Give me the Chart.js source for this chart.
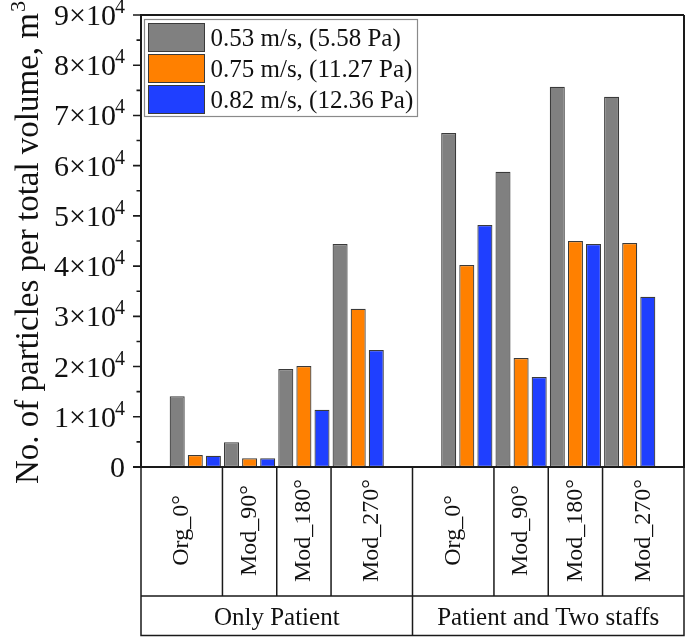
<!DOCTYPE html>
<html>
<head>
<meta charset="utf-8">
<script src="https://cdn.jsdelivr.net/npm/chart.js@4/dist/chart.umd.min.js"></script>
<style>
  html, body { margin: 0; padding: 0; background: #fff; }
  canvas { display: block; }
</style>
</head>
<body>
<canvas id="c" width="685" height="637"></canvas>
<script>
// ---- data ----
const groups = ['Only Patient', 'Patient and Two staffs'];
const categories = ['Org_0°', 'Mod_90°', 'Mod_180°', 'Mod_270°'];
const seriesLabels = ['0.53 m/s, (5.58 Pa)', '0.75 m/s, (11.27 Pa)', '0.82 m/s, (12.36 Pa)'];
const v053 = [14100, 4950, 19500, 44400, 66500, 58800, 75700, 73700];
const v075 = [2400, 1750, 20100, 31500, 40200, 21700, 45000, 44600];
const v082 = [2250, 1750, 11400, 23300, 48200, 17900, 44400, 33900];
const yTicks = [0, 10000, 20000, 30000, 40000, 50000, 60000, 70000, 80000, 90000];
const yTitle = 'No. of particles per total volume, m';
const yTitleSup = '3';

const colors = ['#808080', '#ff8000', '#1f3fff'];

// category slots: empty pad, 4 categories, empty gap, 4 categories, empty pad
const labels = ['', ...categories, '', ...categories, ''];
function padded(vals) {
  return [null, ...vals.slice(0, 4), null, ...vals.slice(4, 8), null];
}
const FONT = '"Liberation Serif", "Times New Roman", serif';

const decor = {
  id: 'decor',
  afterDatasetsDraw(chart) {
    const ctx = chart.ctx;
    const xs = chart.scales.x, ys = chart.scales.y;
    const ca = chart.chartArea;
    const L = ca.left, R = ca.right, T = ca.top, B = ca.bottom;
    ctx.save();
    ctx.fillStyle = '#111';
    ctx.strokeStyle = '#1a1a1a';

    // frame
    ctx.lineWidth = 2;
    ctx.beginPath();
    ctx.moveTo(L, T); ctx.lineTo(R, T);
    ctx.moveTo(R, T); ctx.lineTo(R, B);
    ctx.moveTo(L, T - 1); ctx.lineTo(L, B + 1);
    ctx.moveTo(L - 8, B); ctx.lineTo(R + 1, B);
    ctx.stroke();

    // y ticks (major + minor)
    ctx.lineWidth = 1.6;
    ctx.beginPath();
    yTicks.forEach((v, i) => {
      const y = ys.getPixelForValue(v);
      ctx.moveTo(L - 8, y); ctx.lineTo(L, y);
      if (i < yTicks.length - 1) {
        const ym = ys.getPixelForValue(v + 5000);
        ctx.moveTo(L - 4.5, ym); ctx.lineTo(L, ym);
      }
    });
    ctx.stroke();

    // y tick labels with superscript
    const xr = 125;
    ctx.textBaseline = 'alphabetic';
    ctx.textAlign = 'left';
    yTicks.forEach(v => {
      const y = ys.getPixelForValue(v);
      const base = y + 10;
      if (v === 0) {
        ctx.font = '30px ' + FONT;
        const w = ctx.measureText('0').width;
        ctx.fillText('0', xr - w, base);
        return;
      }
      const main = (v / 10000) + '×10';
      ctx.font = '20px ' + FONT;
      const ws = ctx.measureText('4').width;
      ctx.fillText('4', xr - ws, base - 12);
      ctx.font = '30px ' + FONT;
      const wm = ctx.measureText(main).width;
      ctx.fillText(main, xr - ws - wm + 1, base);
    });

    // y title (rotated) with superscript
    ctx.save();
    ctx.translate(37.5, 243);
    ctx.rotate(-Math.PI / 2);
    ctx.font = '33px ' + FONT;
    const wt = ctx.measureText(yTitle).width;
    ctx.font = '22px ' + FONT;
    const wsup = ctx.measureText(yTitleSup).width;
    const tot = wt + wsup;
    ctx.font = '33px ' + FONT;
    ctx.textAlign = 'left';
    ctx.fillText(yTitle, -tot / 2, 0);
    ctx.font = '22px ' + FONT;
    ctx.fillText(yTitleSup, -tot / 2 + wt + 1, -13);
    ctx.restore();

    // bottom table
    const rowMid = 596, rowBot = 635.5;
    ctx.lineWidth = 1.5;
    ctx.beginPath();
    ctx.moveTo(L, rowMid); ctx.lineTo(R + 0.75, rowMid);
    ctx.moveTo(L, rowBot); ctx.lineTo(R + 0.75, rowBot);
    [0, 5, 10].forEach(p => {
      const x = xs.getPixelForValue(p);
      ctx.moveTo(x, B); ctx.lineTo(x, rowBot + 0.75);
    });
    [1.5, 2.5, 3.5, 6.5, 7.5, 8.5].forEach(p => {
      const x = xs.getPixelForValue(p);
      ctx.moveTo(x, B); ctx.lineTo(x, rowMid);
    });
    ctx.stroke();

    // category labels (rotated)
    ctx.fillStyle = '#111';
    const cellEdges = [[0, 1.5], [1.5, 2.5], [2.5, 3.5], [3.5, 5]];
    for (let g = 0; g < 2; g++) {
      ctx.font = '24px ' + FONT;
      for (let i = 0; i < 4; i++) {
        const a = xs.getPixelForValue(cellEdges[i][0] + g * 5);
        const b = xs.getPixelForValue(cellEdges[i][1] + g * 5);
        const cx = (a + b) / 2;
        const cy = (B + rowMid) / 2 - 1;
        ctx.save();
        ctx.translate(cx, cy);
        ctx.rotate(-Math.PI / 2);
        ctx.textAlign = 'center';
        ctx.textBaseline = 'middle';
        ctx.fillText(categories[i], 0, 0);
        ctx.restore();
      }
      // group labels
      const ga = xs.getPixelForValue(g * 5), gb = xs.getPixelForValue(g * 5 + 5);
      ctx.font = '25px ' + FONT;
      ctx.textAlign = 'center';
      ctx.textBaseline = 'alphabetic';
      ctx.fillText(groups[g], (ga + gb) / 2, 625);
    }

    // legend
    ctx.lineWidth = 1.2;
    ctx.strokeStyle = '#8a8a8a';
    ctx.strokeRect(144.5, 19.5, 273, 97);
    chart.data.datasets.forEach((ds, i) => {
      const y0 = 23.5 + i * 31;
      ctx.fillStyle = ds.backgroundColor;
      ctx.fillRect(148.5, y0, 56, 28);
      ctx.lineWidth = 1;
      ctx.strokeStyle = '#3a3a3a';
      ctx.strokeRect(148.5, y0, 56, 28);
      ctx.fillStyle = '#111';
      ctx.font = '25px ' + FONT;
      ctx.textAlign = 'left';
      ctx.textBaseline = 'alphabetic';
      ctx.fillText(ds.label, 210.5, y0 + 22);
    });

    ctx.restore();
  }
};

new Chart(document.getElementById('c'), {
  type: 'bar',
  data: {
    labels: labels,
    datasets: [v053, v075, v082].map((vals, i) => ({
      label: seriesLabels[i],
      data: padded(vals),
      backgroundColor: colors[i],
      borderColor: '#3a3a3a',
      borderWidth: 1.2,
      borderSkipped: false,
      categoryPercentage: 1.0,
      barPercentage: 0.83
    }))
  },
  options: {
    responsive: false,
    animation: false,
    devicePixelRatio: 1,
    layout: { padding: { top: 15, right: 1, left: 0, bottom: 0 } },
    plugins: { legend: { display: false }, tooltip: { enabled: false } },
    scales: {
      x: {
        type: 'category',
        offset: false,
        grid: { display: false },
        border: { display: false },
        ticks: { display: false, autoSkip: false },
        afterFit(scale) { scale.height = 170; }
      },
      y: {
        min: 0,
        max: 90000,
        grid: { display: false },
        border: { display: false },
        ticks: { display: false, stepSize: 10000 },
        afterFit(scale) { scale.width = 141; }
      }
    }
  },
  plugins: [decor]
});
</script>
</body>
</html>
